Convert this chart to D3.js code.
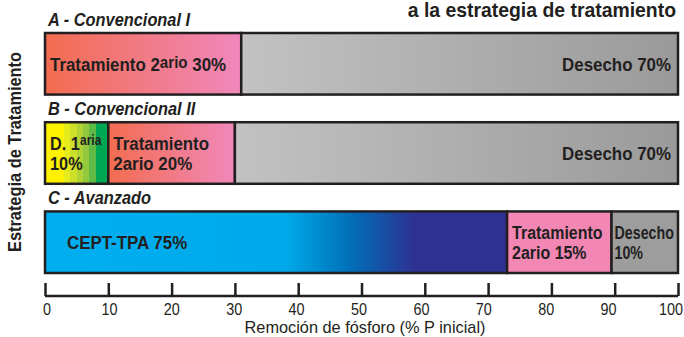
<!DOCTYPE html>
<html>
<head>
<meta charset="utf-8">
<script src="https://cdn.jsdelivr.net/npm/d3@7"></script>
<style>
  body { margin: 0; background: #fff; }
  svg { display: block; }
  text { font-family: "Liberation Sans", Arial, sans-serif; fill: #231f20; }
</style>
</head>
<body>
<div id="container"></div>
<script>
const width = 684;
const height = 337;

// DATA
const strategies = ["A - Convencional I", "B - Convencional II", "C - Avanzado"];
// segment widths (% P removed) as drawn in the picture
const segValues = [
    [31, 69],
    [10, 20, 70],
    [73, 16.5, 10.5]
];
const segKinds = [
    ["sec", "waste"],
    ["prim", "sec", "waste"],
    ["cept", "sec2", "waste2"]
];
// label lines; "^" marks raised (superscript) part
const segLabels = [
    [["Tratamiento 2^ario^ 30%"], ["Desecho 70%"]],
    [["D. 1^aria^", "10%"], ["Tratamiento", "2ario 20%"], ["Desecho 70%"]],
    [["CEPT-TPA 75%"], ["Tratamiento", "2ario 15%"], ["Desecho", "10%"]]
];
const xTicks = [0, 10, 20, 30, 40, 50, 60, 70, 80, 90, 100];
const xTitle = "Remoción de fósforo  (% P inicial)";
const yTitle = "Estrategia de Tratamiento";
const topTitle = "a la estrategia de tratamiento";

// horizontal text squeeze per segment kind (condensed look)
const squeeze = { sec: 0.89, waste: 0.89, prim: 0.86, cept: 0.89, sec2: 0.84, waste2: 0.75 };

const svg = d3.select("div#container").append("svg")
    .attr("width", width)
    .attr("height", height);

// SCALES
const x = d3.scaleLinear().domain([0, 100]).range([45, 678]);
const xLab = d3.scaleLinear().domain([0, 100]).range([47, 671]);
const y = d3.scaleBand().domain(strategies).range([33, 273]).paddingInner(0.31);

// GRADIENTS
const defs = svg.append("defs");
function grad(id, stops) {
    const g = defs.append("linearGradient").attr("id", id)
        .attr("x1", "0%").attr("x2", "100%").attr("y1", "0%").attr("y2", "0%");
    stops.forEach(function (s) {
        g.append("stop").attr("offset", s[0]).attr("stop-color", s[1]);
    });
}
grad("g-sec", [["0%", "#f26c4f"], ["100%", "#f088bb"]]);
grad("g-waste", [["0%", "#c2c2c2"], ["100%", "#9a9a9a"]]);
grad("g-cept", [["0%", "#00aeef"], ["52%", "#00aaea"], ["66%", "#0070b8"], ["80%", "#2e3192"], ["100%", "#2e3192"]]);
const primSteps = ["#fff200", "#fff200", "#fff200", "#e6eb1c", "#cfe02a", "#b3d335", "#94c93e", "#5fba46", "#00a651", "#00a651"];
const pg = defs.append("linearGradient").attr("id", "g-prim");
primSteps.forEach(function (c, i) {
    pg.append("stop").attr("offset", (i / primSteps.length * 100) + "%").attr("stop-color", c);
    pg.append("stop").attr("offset", ((i + 1) / primSteps.length * 100) + "%").attr("stop-color", c);
});
const fills = {
    sec: "url(#g-sec)", waste: "url(#g-waste)", prim: "url(#g-prim)",
    cept: "url(#g-cept)", sec2: "#f287b3", waste2: "#9d9d9d"
};

// BARS
strategies.forEach(function (s, i) {
    let cum = 0;
    const segs = segValues[i].map(function (v, j) {
        const d = { x0: cum, x1: cum + v, kind: segKinds[i][j], label: segLabels[i][j] };
        cum += v;
        return d;
    });
    const g = svg.append("g");
    g.selectAll("rect")
        .data(segs)
        .enter()
        .append("rect")
        .attr("x", function (d) { return x(d.x0); })
        .attr("y", y(s))
        .attr("width", function (d) { return x(d.x1) - x(d.x0); })
        .attr("height", y.bandwidth())
        .attr("fill", function (d) { return fills[d.kind]; })
        .attr("stroke", "#231f20")
        .attr("stroke-width", 2.5);

    // group label
    svg.append("text")
        .attr("transform", "translate(" + (x(0) + 3) + "," + (y(s) - 7) + ") scale(0.91,1)")
        .style("font-size", "18px")
        .style("font-weight", "bold")
        .style("font-style", "italic")
        .text(s);

    // segment labels
    segs.forEach(function (d) {
        const right = d.kind === "waste";
        const lx = right ? x(d.x1) - 7 : x(d.x0) + (d.kind === "cept" ? 22 : (d.kind === "waste2" ? 3 : 5));
        const n = d.label.length;
        const mid = y(s) + y.bandwidth() / 2;
        const t = g.append("text")
            .attr("transform", "translate(" + lx + "," + mid + ") scale(" + squeeze[d.kind] + ",1)")
            .style("font-size", "19px")
            .style("font-weight", "bold")
            .attr("text-anchor", right ? "end" : "start");
        d.label.forEach(function (line, k) {
            const base = n === 1 ? 7 : (k === 0 ? -3 : 17);
            const parts = line.split("^");
            parts.forEach(function (p, m) {
                if (!p) return;
                const ts = t.append("tspan").text(p);
                if (m === 0) ts.attr("x", 0).attr("y", base);
                if (m === 1) {
                    const small = d.kind === "prim";
                    ts.attr("dy", small ? -5 : -3).style("font-size", small ? "14px" : "17px");
                }
                if (m === 2) ts.attr("dy", d.kind === "prim" ? 5 : 3);
            });
        });
    });
});

// AXES
const axisY = 296;
const xaxis = d3.axisTop(x).tickValues(xTicks).tickSize(13).tickFormat("");
const ax = svg.append("g")
    .attr("transform", "translate(0," + axisY + ")")
    .call(xaxis);
ax.select(".domain").attr("stroke", "#231f20").attr("stroke-width", 2.5).attr("d", "M" + x(0) + ",0H" + x(100));
ax.selectAll(".tick line").attr("stroke", "#231f20").attr("stroke-width", 2.5);

svg.selectAll(".xlab")
    .data(xTicks)
    .enter()
    .append("text")
    .attr("class", "xlab")
    .attr("transform", function (d) { return "translate(" + xLab(d) + "," + 315 + ") scale(0.9,1)"; })
    .attr("text-anchor", "middle")
    .style("font-size", "16px")
    .text(function (d) { return d; });

svg.append("text")
    .attr("transform", "translate(" + 365 + ",333) scale(0.96,1)")
    .attr("text-anchor", "middle")
    .style("font-size", "17px")
    .text(xTitle);

svg.append("text")
    .attr("transform", "translate(21,152) rotate(-90) scale(0.91,1)")
    .attr("text-anchor", "middle")
    .style("font-size", "18px")
    .style("font-weight", "bold")
    .text(yTitle);

svg.append("text")
    .attr("transform", "translate(676,17) scale(0.97,1)")
    .attr("text-anchor", "end")
    .style("font-size", "20px")
    .style("font-weight", "bold")
    .text(topTitle);
</script>
</body>
</html>
